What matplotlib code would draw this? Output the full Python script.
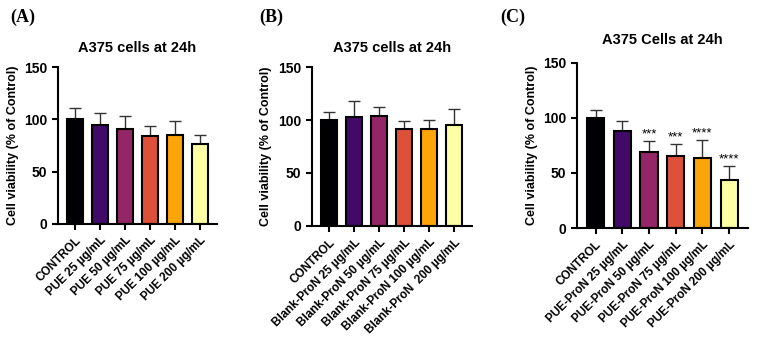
import numpy as np
import matplotlib.pyplot as plt

plt.rcParams['font.family'] = ['Liberation Sans', 'DejaVu Sans']

colors = ['#000004', '#420a68', '#932667', '#dd513a', '#fca50a', '#fcffa4']

labels_a = ['CONTROL', 'PUE 25 µg/mL', 'PUE 50 µg/mL', 'PUE 75 µg/mL',
            'PUE 100 µg/mL', 'PUE 200 µg/mL']
mean_a = [100, 95, 91, 84, 85, 76]
top_a = [111, 106, 103, 94, 98, 85]

labels_b = ['CONTROL', 'Blank-ProN 25 µg/mL', 'Blank-ProN 50 µg/mL',
            'Blank-ProN 75 µg/mL', 'Blank-ProN 100 µg/mL', 'Blank-ProN  200 µg/mL']
mean_b = [100, 103, 104, 92, 92, 95]
top_b = [108, 118, 112, 99, 100, 110]

labels_c = ['CONTROL', 'PUE-ProN 25 µg/mL', 'PUE-ProN 50 µg/mL',
            'PUE-ProN 75 µg/mL', 'PUE-ProN 100 µg/mL', 'PUE-ProN 200 µg/mL']
mean_c = [100, 88, 69, 65, 64, 44]
top_c = [107, 97, 79, 76, 80, 56]
stars_c = ['', '', '***', '***', '****', '****']

panels = [
    ('(A)', 'A375 cells at 24h', labels_a, mean_a, top_a, None,
     [0.076, 0.353, 0.210, 0.453], 0.013, 11),
    ('(B)', 'A375 cells at 24h', labels_b, mean_b, top_b, None,
     [0.410, 0.347, 0.211, 0.459], 0.341, 11),
    ('(C)', 'A375 Cells at 24h', labels_c, mean_c, top_c, stars_c,
     [0.759, 0.341, 0.225, 0.477], 0.658, 14),
]

fig = plt.figure(figsize=(7.6, 3.46), dpi=100)

for letter, title, labels, mean, top, stars, pos, lx, pad in panels:
    ax = fig.add_axes(pos)
    x = np.arange(len(labels))
    err = np.array(top) - np.array(mean)
    ax.bar(x, mean, width=0.64, color=colors, edgecolor='black', linewidth=1.5, zorder=2)
    ax.errorbar(x, mean, yerr=[np.zeros(len(x)), err], fmt='none', ecolor='#333333',
                elinewidth=1.0, capsize=4, capthick=1.0, zorder=1)
    if stars:
        for xi, t, s in zip(x, top, stars):
            ax.text(xi, t + 0.5, s, ha='center', va='bottom', fontsize=9.5)
    ax.set_xlim(-0.7, 5.7)
    ax.set_ylim(0, 150)
    ax.set_yticks([0, 50, 100, 150])
    ax.set_xticks(x)
    ax.set_xticklabels(labels, rotation=45, ha='right', rotation_mode='anchor',
                       fontsize=8.5, fontweight='bold')
    for t in ax.get_yticklabels():
        t.set_fontweight('bold')
        t.set_fontsize(10)
    ax.spines['top'].set_visible(False)
    ax.spines['right'].set_visible(False)
    ax.spines['left'].set_linewidth(1.5)
    ax.spines['bottom'].set_linewidth(1.5)
    ax.tick_params(axis='both', width=1.5, length=4)
    ax.set_ylabel('Cell viability (% of Control)', fontsize=9, fontweight='bold')
    ax.set_title(title, fontsize=10.5, fontweight='bold', pad=pad)
    fig.text(lx, 0.95, letter, fontsize=13, fontweight='bold',
             family=['Liberation Serif', 'DejaVu Serif'], va='center')

fig.savefig('out.png', dpi=100)
